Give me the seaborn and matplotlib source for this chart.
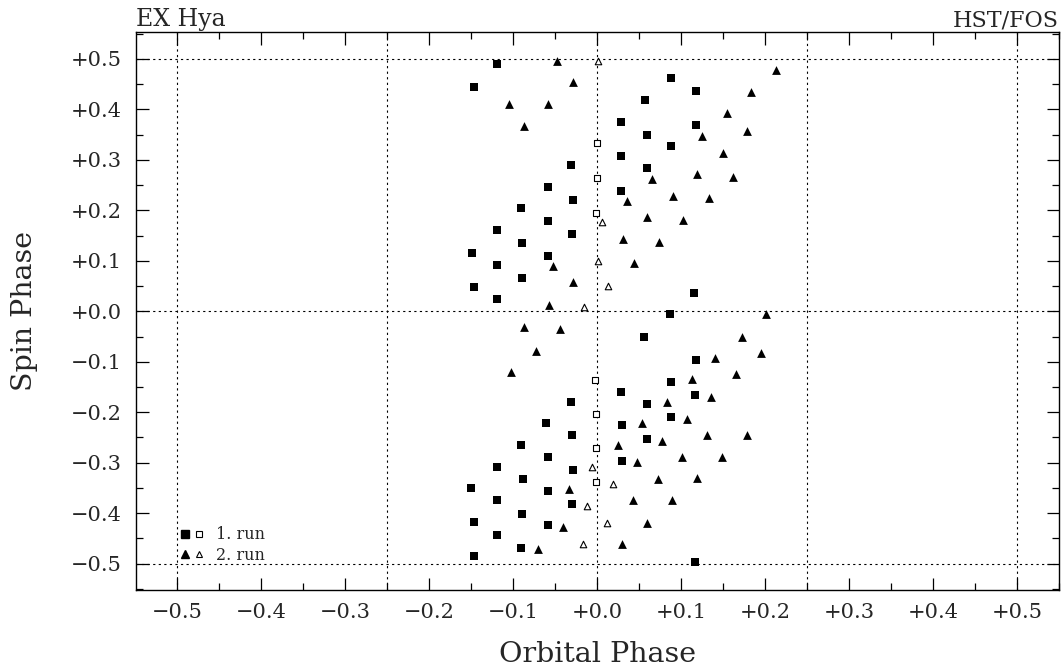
import numpy as np
import pandas as pd
import matplotlib
matplotlib.use("Agg")
import matplotlib.pyplot as plt
import seaborn as sns
from matplotlib.lines import Line2D
from matplotlib.legend_handler import HandlerTuple
from matplotlib.ticker import FixedLocator, MultipleLocator

# ---------------- data (orbital phase, spin phase) ----------------
run1_filled_x = [-0.147, -0.119, -0.149, -0.147, -0.119, -0.119, -0.119, -0.090, -0.089, -0.089,
                 -0.059, -0.059, -0.059, -0.031, -0.029, -0.030, 0.029, 0.029, 0.029, 0.057,
                 0.059, 0.059, 0.088, 0.088, 0.118, 0.118, 0.115, 0.087, 0.056, 0.118,
                 0.088, 0.029, 0.117, 0.059, 0.088, 0.030, 0.059, 0.030, -0.031, -0.061,
                 -0.030, -0.090, -0.059, -0.119, -0.029, -0.088, -0.150, -0.059, -0.119, -0.030,
                 -0.089, -0.147, -0.059, -0.119, -0.090, -0.147, 0.117]
run1_filled_y = [0.444, 0.489, 0.115, 0.048, 0.160, 0.091, 0.024, 0.204, 0.135, 0.065,
                 0.246, 0.178, 0.109, 0.289, 0.220, 0.152, 0.374, 0.307, 0.238, 0.418,
                 0.350, 0.283, 0.461, 0.327, 0.436, 0.368, 0.036, -0.006, -0.050, -0.097,
                 -0.141, -0.160, -0.166, -0.184, -0.210, -0.226, -0.253, -0.297, -0.180, -0.222,
                 -0.246, -0.265, -0.289, -0.309, -0.315, -0.333, -0.350, -0.356, -0.374, -0.382,
                 -0.402, -0.418, -0.424, -0.444, -0.469, -0.485, -0.497]

run1_open_x = [0.000, 0.000, -0.001, -0.002, -0.001, -0.001, -0.001]
run1_open_y = [0.333, 0.263, 0.194, -0.137, -0.204, -0.271, -0.339]

run2_filled_x = [-0.048, -0.029, -0.105, -0.058, -0.087, 0.213, 0.183, 0.155, 0.178, 0.125,
                 0.150, 0.119, 0.162, 0.065, 0.090, 0.133, 0.036, 0.059, 0.102, 0.031,
                 0.074, 0.044, -0.052, -0.029, -0.057, -0.087, -0.044, -0.073, -0.103, 0.201,
                 0.172, 0.195, 0.141, 0.166, 0.113, 0.136, 0.083, 0.107, 0.054, 0.131,
                 0.178, 0.077, 0.025, 0.101, 0.149, 0.048, 0.073, 0.119, 0.043, 0.089,
                 0.059, 0.030, -0.034, -0.040, -0.070]
run2_filled_y = [0.495, 0.453, 0.410, 0.410, 0.366, 0.477, 0.434, 0.392, 0.356, 0.347,
                 0.313, 0.271, 0.265, 0.261, 0.228, 0.224, 0.218, 0.186, 0.180, 0.143,
                 0.137, 0.095, 0.089, 0.057, 0.012, -0.032, -0.036, -0.079, -0.121, -0.006,
                 -0.050, -0.083, -0.093, -0.125, -0.135, -0.170, -0.180, -0.214, -0.222, -0.246,
                 -0.246, -0.257, -0.265, -0.289, -0.289, -0.299, -0.333, -0.331, -0.374, -0.374,
                 -0.420, -0.461, -0.352, -0.428, -0.471]

run2_open_x = [0.001, 0.006, 0.001, 0.013, -0.015, -0.006, -0.012, 0.012, -0.017, 0.019]
run2_open_y = [0.495, 0.176, 0.099, 0.050, 0.008, -0.309, -0.386, -0.420, -0.461, -0.343]

major_ticks = [-0.5, -0.4, -0.3, -0.2, -0.1, 0.0, 0.1, 0.2, 0.3, 0.4, 0.5]
tick_labels = ["\u22120.5", "\u22120.4", "\u22120.3", "\u22120.2", "\u22120.1", "+0.0",
               "+0.1", "+0.2", "+0.3", "+0.4", "+0.5"]
grid_x = [-0.5, -0.25, 0.0, 0.25, 0.5]
grid_y = [-0.5, 0.0, 0.5]
legend_labels = ["1. run", "2. run"]

# ---------------- style ----------------
sns.set_style("ticks")
plt.rcParams["font.family"] = ["DejaVu Serif"]
plt.rcParams["axes.linewidth"] = 1.0

fig = plt.figure(figsize=(10.61, 6.69), dpi=100)
ax = fig.add_axes([136 / 1061, 79 / 669, 923 / 1061, 558 / 669])

df_r1f = pd.DataFrame({"orb": run1_filled_x, "spin": run1_filled_y})
df_r1o = pd.DataFrame({"orb": run1_open_x, "spin": run1_open_y})
df_r2f = pd.DataFrame({"orb": run2_filled_x, "spin": run2_filled_y})
df_r2o = pd.DataFrame({"orb": run2_open_x, "spin": run2_open_y})

sns.scatterplot(data=df_r1f, x="orb", y="spin", marker="s", s=30, color="black",
                edgecolor="black", linewidth=0, ax=ax, zorder=3)
sns.scatterplot(data=df_r2f, x="orb", y="spin", marker="^", s=40, color="black",
                edgecolor="black", linewidth=0, ax=ax, zorder=3)
sns.scatterplot(data=df_r1o, x="orb", y="spin", marker="s", s=16, facecolor="white",
                edgecolor="black", linewidth=0.8, ax=ax, zorder=3)
sns.scatterplot(data=df_r2o, x="orb", y="spin", marker="^", s=22, facecolor="white",
                edgecolor="black", linewidth=0.8, ax=ax, zorder=3)

for gx in grid_x:
    ax.axvline(gx, color="black", linestyle=(0, (2, 3)), linewidth=0.8, zorder=1)
for gy in grid_y:
    ax.axhline(gy, color="black", linestyle=(0, (2, 3)), linewidth=0.8, zorder=1)

ax.set_xlim(-0.549, 0.55)
ax.set_ylim(-0.552, 0.553)

for axis in (ax.xaxis, ax.yaxis):
    axis.set_major_locator(FixedLocator(major_ticks))
    axis.set_minor_locator(MultipleLocator(0.05))
ax.set_xticklabels(tick_labels)
ax.set_yticklabels(tick_labels)
ax.tick_params(which="both", direction="in", top=True, right=True, color="black")
ax.tick_params(which="major", length=9, width=0.9, labelsize=15)
ax.tick_params(which="minor", length=5, width=0.9)
ax.tick_params(axis="x", which="major", pad=9)
ax.tick_params(axis="y", which="major", pad=10)

for sp in ax.spines.values():
    sp.set_visible(True)
    sp.set_color("black")

ax.set_xlabel("Orbital Phase", fontsize=20.5, labelpad=14)
ax.set_ylabel("Spin Phase", fontsize=20.5, labelpad=24)
ax.set_title("EX Hya", loc="left", fontsize=17, pad=4)
ax.set_title("HST/FOS", loc="right", fontsize=16, pad=4)

h1 = (Line2D([], [], marker="s", linestyle="none", color="black", markersize=5.5),
      Line2D([], [], marker="s", linestyle="none", markerfacecolor="white",
             markeredgecolor="black", markersize=4.5, markeredgewidth=0.8))
h2 = (Line2D([], [], marker="^", linestyle="none", color="black", markersize=6),
      Line2D([], [], marker="^", linestyle="none", markerfacecolor="white",
             markeredgecolor="black", markersize=5, markeredgewidth=0.8))
ax.legend([h1, h2], legend_labels, handler_map={tuple: HandlerTuple(ndivide=None, pad=0.3)},
          loc="lower left", bbox_to_anchor=(0.04, 0.033), frameon=False, fontsize=11.5,
          handlelength=1.4, handletextpad=0.8, labelspacing=0.2, borderpad=0)

fig.savefig("out.png", dpi=100)
